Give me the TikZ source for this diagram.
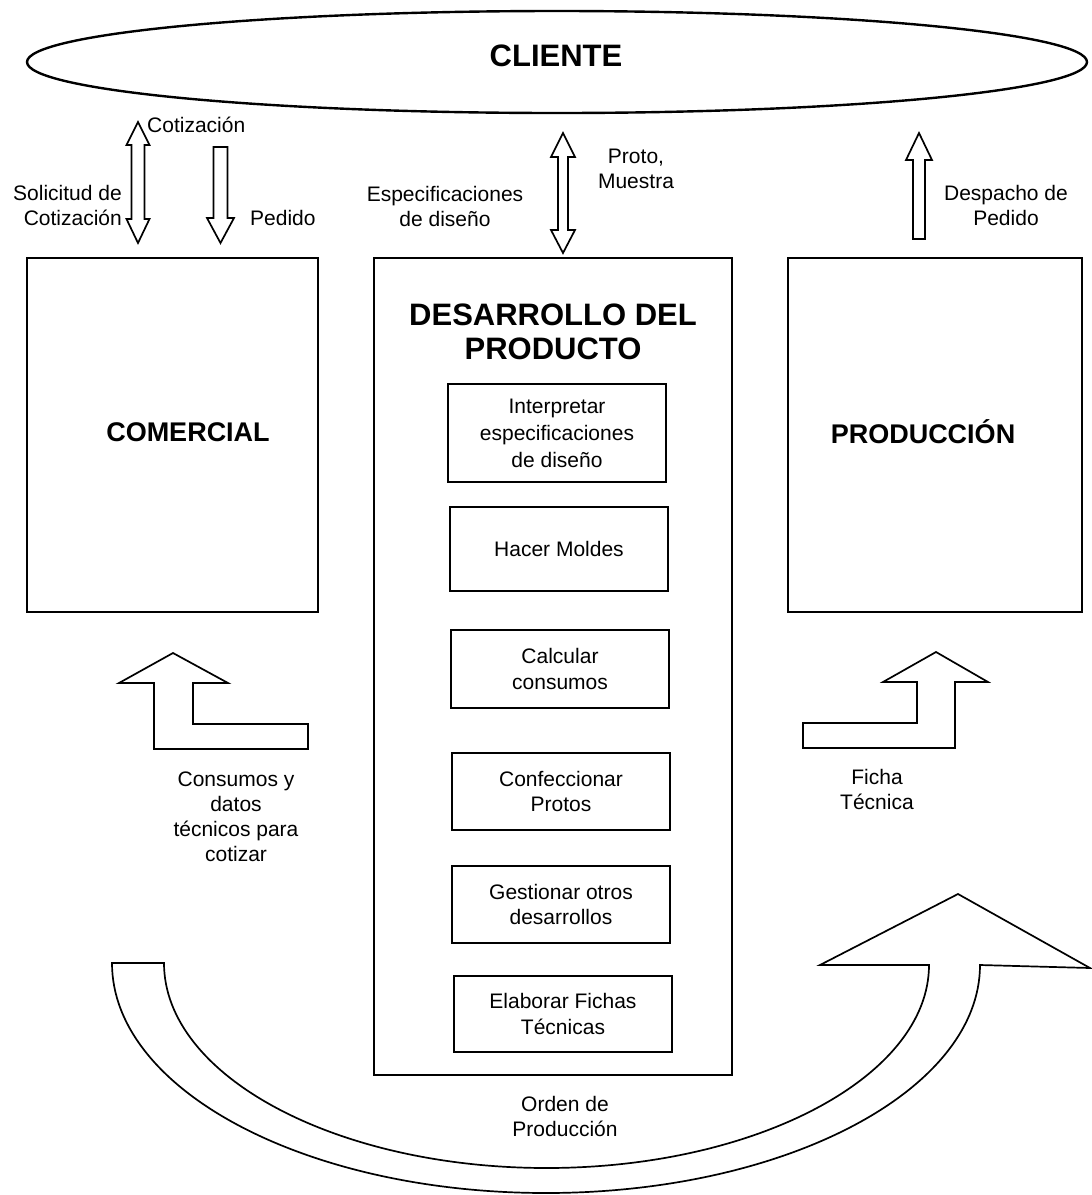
\documentclass[tikz,border=0pt]{standalone}
\usepackage{fontspec}
\setmainfont{Liberation Sans}
\usetikzlibrary{shapes.geometric}
\begin{document}
\begin{tikzpicture}[x=1pt,y=-1pt,line join=miter,
  frame/.style={draw, line width=1.9pt, inner sep=0pt},
  task/.style={draw, line width=1.7pt, minimum width=218pt, inner sep=0pt, align=center,
    font=\fontsize{21}{25.5}\selectfont},
  lbl/.style={align=center, inner sep=0pt, font=\fontsize{21}{25}\selectfont},
  head/.style={inner sep=0pt, align=center, font=\fontsize{27}{30}\selectfont\bfseries},
  barrow/.style={draw, line width=1.7pt, fill=white}]
\useasboundingbox (0,0) rectangle (1092,1195);

% customer
\node[draw, ellipse, line width=2.4pt, minimum width=1060pt, minimum height=102pt, inner sep=0pt] (cliente) at (557,62) {};
\node[inner sep=0pt, font=\fontsize{31}{34}\selectfont\bfseries] (clienteT) at (556,56) {CLIENTE};

% departments
\node[frame, minimum width=291pt, minimum height=354pt] (comercial) at (172.5,435) {};
\node[frame, minimum width=358pt, minimum height=817pt] (desarrollo) at (553,666.5) {};
\node[frame, minimum width=294pt, minimum height=354pt] (produccion) at (935,435) {};

\node[head] (comercialT) at (188,432) {COMERCIAL};
\node[head] (produccionT) at (923,432) {PRODUCCIÓN};
\node[head, font=\fontsize{31}{34}\selectfont\bfseries] (desarrolloT) at (553,332) {DESARROLLO DEL\\PRODUCTO};

% development tasks
\node[task, minimum height=98pt, font=\fontsize{21}{27}\selectfont] (t1) at (557,433) {Interpretar\\especificaciones\\de diseño};
\node[task, minimum height=84pt] (t2) at (559,549) {Hacer Moldes};
\node[task, minimum height=78pt] (t3) at (560,669) {Calcular\\consumos};
\node[task, minimum height=77pt] (t4) at (561,791.5) {Confeccionar\\Protos};
\node[task, minimum height=77pt] (t5) at (561,904.5) {Gestionar otros\\desarrollos};
\node[task, minimum height=76pt] (t6) at (563,1014) {Elaborar Fichas\\Técnicas};

% flows between the customer and the departments
\draw[barrow] (138,122) -- (149.5,145) -- (144.5,145) -- (144.5,219) -- (149.5,219) -- (138,243)
  -- (126.5,219) -- (131.5,219) -- (131.5,145) -- (126.5,145) -- cycle;
\draw[barrow] (213.5,147) -- (227.5,147) -- (227.5,218) -- (234,218) -- (220.5,243) -- (207,218)
  -- (213.5,218) -- cycle;
\draw[barrow] (563,133) -- (575,157) -- (568,157) -- (568,230) -- (575,230) -- (563,253)
  -- (551,230) -- (558,230) -- (558,157) -- (551,157) -- cycle;
\draw[barrow] (919,133) -- (932,160) -- (925,160) -- (925,239) -- (913,239) -- (913,160)
  -- (906,160) -- cycle;

\node[lbl, anchor=west] (cotiz) at (147,125) {Cotización};
\node[lbl, anchor=east, align=right] (solic) at (122,205) {Solicitud de\\Cotización};
\node[lbl, anchor=west] (pedido) at (250,218) {Pedido};
\node[lbl] (espec) at (445,206) {Especificaciones\\de diseño};
\node[lbl] (proto) at (636,169) {Proto,\\Muestra};
\node[lbl] (despacho) at (1006,205) {Despacho de\\Pedido};

% bent arrows into the side departments
\draw[barrow] (154,749) -- (154,683) -- (119,683) -- (173,653) -- (228,683) -- (193,683)
  -- (193,724) -- (308,724) -- (308,749) -- cycle;
\draw[barrow] (955,748) -- (955,682) -- (988,682) -- (936,652) -- (883,682) -- (917,682)
  -- (917,723) -- (803,723) -- (803,748) -- cycle;

\node[lbl] (consumos) at (236,817) {Consumos y\\datos\\técnicos para\\cotizar};
\node[lbl] (ficha) at (877,789) {Ficha\\Técnica};

% curved arrow under the development area
\draw[barrow] (164,963) -- (112,963)
  .. controls (112,1090) and (306,1193) .. (546,1193)
  .. controls (786,1193) and (980,1090) .. (980,965)
  -- (1090,968) -- (958,894) -- (820,965) -- (929,965)
  .. controls (929,1076) and (757,1168) .. (546.5,1168)
  .. controls (336,1168) and (164,1076) .. cycle;

\node[lbl] (orden) at (565,1116) {Orden de\\Producción};
\end{tikzpicture}
\end{document}
